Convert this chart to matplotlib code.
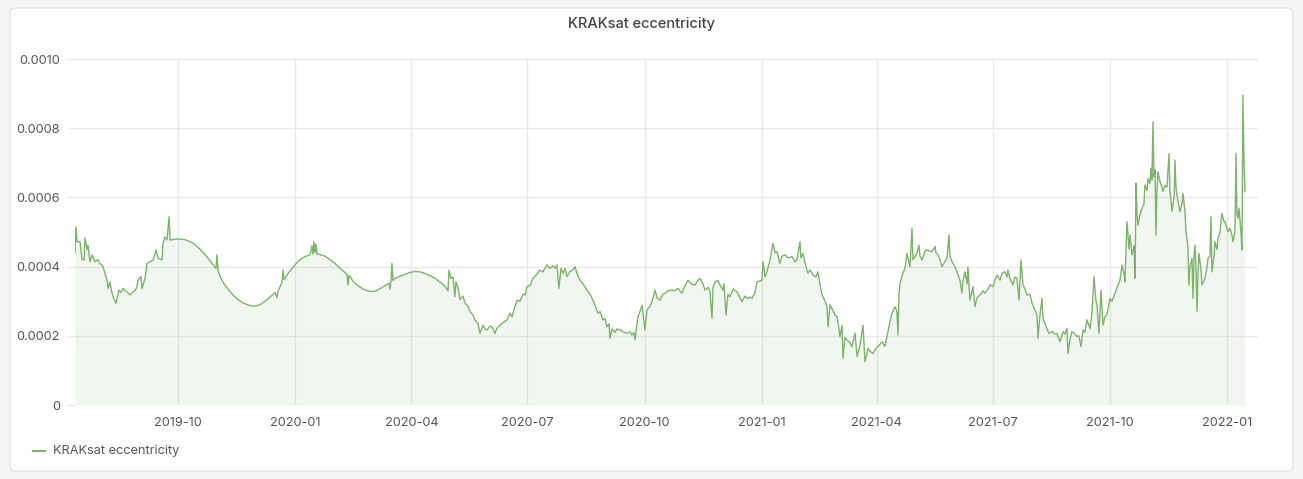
import matplotlib
matplotlib.use("Agg")
import matplotlib.pyplot as plt
import matplotlib.dates as mdates
from matplotlib.patches import FancyBboxPatch
from matplotlib.lines import Line2D
import numpy as np
import pandas as pd

plt.rcParams['font.family'] = ['Inter', 'DejaVu Sans']

title = "KRAKsat eccentricity"
series_name = "KRAKsat eccentricity"
start_date = "2019-07-12"

# days since start_date
days = [
    0.0, 0.8, 1.6, 3.9, 5.5, 7.1, 7.8, 9.4, 10.2, 11.8, 13.3, 15.7, 18.0, 19.6, 22.0, 23.5, 25.1, 25.9,
    27.5, 28.2, 29.8, 32.2, 34.5, 36.1, 37.7, 39.2, 40.8, 43.2, 45.5, 47.1, 48.6, 49.4, 51.8, 52.6,
    54.9, 56.5, 58.8, 61.2, 63.6, 65.1, 68.3, 69.0, 70.6, 72.2, 73.8, 74.6,
    80.0, 86.3, 92.6, 98.1, 103.6, 108.3, 110.6, 111.4, 112.2, 113.8, 116.1, 120.0, 124.0, 127.9,
    131.8, 135.7, 138.9, 142.0, 145.2, 149.1, 153.0, 156.9, 158.5, 159.3, 162.4, 163.2, 164.0, 167.1,
    172.6, 176.5, 180.5, 184.4, 185.9, 186.7, 187.5, 188.3, 189.1, 189.9, 192.2, 196.2, 200.1, 204.0,
    207.9, 211.8, 213.4, 214.2, 215.0, 218.1, 222.0, 226.0, 229.9, 233.0, 236.2, 239.3, 243.2, 246.4,
    247.1, 247.9, 248.7, 249.5, 251.1, 255.0, 258.9, 262.8, 266.8, 270.7, 274.6, 278.5, 282.5, 286.4,
    290.3, 292.7, 293.4, 295.0, 296.6, 298.1, 298.9, 300.5, 302.1, 304.4,
    306.0, 308.3, 309.9, 312.3, 313.8, 316.2, 317.8, 320.1, 321.7, 323.3, 325.6, 327.2, 329.5, 331.1,
    333.5, 336.6, 338.9, 341.3, 342.9, 345.2, 346.8, 349.1, 351.5, 353.1, 354.6, 357.0, 359.3, 361.7,
    364.8, 367.2, 370.3, 372.7, 375.0, 376.6, 378.2, 379.7, 381.3, 382.9, 384.5, 386.0, 388.4, 390.7,
    392.3, 393.9, 396.2, 398.6, 401.7, 404.1, 406.4, 408.0, 410.3, 411.9, 414.3, 415.8, 417.4, 419.0,
    419.8, 421.3, 423.7, 425.3, 427.6, 430.0, 433.1, 435.5, 437.0, 438.6, 439.4, 440.9, 441.7, 443.3,
    444.9, 447.2, 448.8, 451.1, 452.7, 455.1, 456.6,
    459.0, 461.3, 462.9, 465.3, 468.4, 470.8, 473.1, 474.7, 476.2, 478.6, 481.0, 483.3, 486.5, 488.8,
    490.4, 492.7, 494.3, 496.7, 498.2, 499.8, 500.6, 502.1, 504.5, 506.1, 508.4, 509.2, 510.8, 512.3,
    513.9, 516.3, 519.4, 521.8, 523.3, 525.7, 527.3, 529.6, 531.2, 533.5, 535.1, 537.5, 539.0, 539.8,
    541.4, 542.9, 545.3, 547.6, 549.2, 550.8, 553.1, 554.7, 557.1, 559.4, 562.6, 564.9, 566.5, 568.8,
    569.6, 571.2, 573.5, 575.1, 576.7, 579.0, 581.4, 582.9, 584.5, 586.1, 588.5, 590.0, 590.8, 592.4,
    593.9, 596.3, 597.9, 599.4, 600.2, 601.8, 602.6, 604.1, 605.7, 608.1, 609.6, 612.0,
    613.6, 615.9, 618.3, 619.8, 622.2, 623.8, 626.1, 627.7, 630.0, 631.6, 633.2, 635.5, 637.9, 639.4,
    641.0, 643.4, 644.9, 645.7, 646.5, 647.3, 649.6, 651.2, 652.8, 654.4, 655.1, 656.7, 657.5, 659.1,
    660.6, 662.2, 663.0, 664.6, 666.9, 668.5, 670.8, 672.4, 674.8, 675.5, 677.1, 678.7, 680.2, 682.6,
    684.2, 685.7, 686.5, 688.1, 690.4, 692.0, 694.4, 695.9, 696.7, 698.3, 699.9, 700.6, 702.2, 703.8,
    704.6, 706.1, 707.7, 710.1, 712.4, 714.0, 716.3, 717.9, 720.3, 721.8, 723.4, 725.8, 727.3, 729.7,
    731.3, 732.0, 733.6, 735.9, 737.5, 739.1, 740.7, 742.2, 743.8, 745.4, 746.9, 749.3, 750.9, 753.2,
    754.8, 755.6, 757.1, 758.7, 759.5, 761.1, 762.6, 764.2,
    766.6, 768.9, 770.5, 772.8, 775.2, 776.8, 778.3, 779.1, 780.7, 782.2, 784.6, 786.2, 787.7, 789.3,
    790.9, 792.4, 794.0, 796.4, 797.9, 799.5, 801.1, 801.9, 803.4, 805.0, 806.6, 808.1, 809.7, 812.1,
    813.6, 816.0, 818.3, 819.9, 821.5, 823.0, 823.8, 825.4, 827.0, 827.8, 829.3, 830.9, 831.7, 832.5,
    833.3, 834.0, 835.6, 837.2, 838.7, 839.5, 841.1, 841.9, 843.4, 844.2, 845.0, 845.8, 846.6, 847.4,
    848.1, 848.9, 849.7, 851.3, 852.9, 853.6, 855.2, 856.8, 858.4, 859.1, 860.7, 862.3, 863.1, 863.8,
    864.6, 867.0, 868.5, 869.3, 870.9, 871.7, 873.2, 874.0, 874.8, 876.4, 877.2, 878.0, 878.8, 879.5,
    880.3, 881.1, 881.9, 883.5, 884.2, 885.8, 886.6, 888.2, 889.0, 890.5, 891.3, 892.1, 893.7, 894.4,
    896.0, 896.8, 898.4, 899.9, 901.5, 902.3, 903.9, 904.6, 906.2, 907.8, 908.6, 910.1, 910.9, 911.7,
    912.5, 913.3, 914.8, 915.6, 916.4, 917.2, 918.0,
]

# eccentricity in units of 1e-4
ecc_e4 = [
    4.39, 5.15, 4.72, 4.72, 4.21, 4.19, 4.82, 4.50, 4.62, 4.14, 4.33, 4.14, 4.20, 4.09, 4.00, 3.80, 3.61, 3.37,
    3.56, 3.37, 3.13, 2.94, 3.32, 3.25, 3.37, 3.30, 3.27, 3.18, 3.27, 3.30, 3.42, 3.61, 3.71, 3.37,
    3.66, 4.09, 4.14, 4.19, 4.48, 4.24, 4.19, 4.67, 4.86, 4.77, 5.44, 4.77,
    4.80, 4.78, 4.68, 4.50, 4.28, 4.05, 3.95, 4.34, 3.90, 3.72, 3.55, 3.35, 3.18, 3.05,
    2.95, 2.89, 2.86, 2.86, 2.90, 3.00, 3.12, 3.25, 3.10, 3.28, 3.55, 3.90, 3.62, 3.80,
    4.05, 4.20, 4.29, 4.34, 4.60, 4.36, 4.72, 4.40, 4.65, 4.36, 4.35, 4.30, 4.20, 4.09,
    3.95, 3.83, 3.78, 3.47, 3.75, 3.58, 3.45, 3.35, 3.30, 3.28, 3.30, 3.36, 3.45, 3.52,
    3.35, 3.55, 4.09, 3.60, 3.66, 3.72, 3.78, 3.83, 3.86, 3.85, 3.80, 3.74, 3.66, 3.55,
    3.43, 3.30, 3.90, 3.66, 3.70, 3.13, 3.56, 3.40, 3.05, 3.15,
    2.95, 2.85, 2.70, 2.60, 2.46, 2.35, 2.07, 2.31, 2.20, 2.17, 2.28, 2.26, 2.07, 2.22,
    2.31, 2.40, 2.46, 2.65, 2.55, 2.85, 3.03, 3.00, 3.20, 3.18, 3.42, 3.45, 3.66, 3.75,
    3.90, 3.85, 4.05, 3.95, 4.02, 3.95, 4.05, 3.37, 3.95, 3.80, 3.95, 3.71, 3.86, 3.90,
    4.00, 3.80, 3.61, 3.50, 3.32, 3.20, 3.03, 2.90, 2.65, 2.70, 2.46, 2.50, 2.26, 2.35,
    1.93, 2.20, 2.10, 2.20, 2.17, 2.12, 2.07, 2.12, 2.02, 2.10, 1.88, 2.31, 2.55, 2.70,
    2.89, 2.17, 2.75, 2.85, 2.99, 3.32, 3.10,
    3.03, 3.20, 3.23, 3.30, 3.32, 3.30, 3.37, 3.30, 3.23, 3.45, 3.61, 3.50, 3.47, 3.60,
    3.66, 3.50, 3.32, 3.40, 3.27, 2.50, 3.40, 3.56, 3.60, 3.47, 3.32, 3.50, 2.60, 3.20,
    3.13, 3.35, 3.27, 3.10, 2.99, 3.15, 3.08, 3.12, 3.08, 3.25, 3.56, 3.58, 3.61, 4.14,
    3.70, 3.85, 4.19, 4.67, 4.40, 4.43, 4.09, 4.30, 4.34, 4.25, 4.29, 4.14, 4.20, 4.72,
    4.25, 4.38, 4.00, 3.81, 3.90, 3.76, 3.70, 3.85, 3.50, 3.18, 3.00, 2.84, 2.26, 2.90,
    2.79, 2.60, 2.55, 2.20, 1.97, 2.30, 1.35, 1.95, 1.88, 1.80, 1.68, 2.08,
    1.40, 1.73, 2.31, 1.25, 1.64, 1.55, 1.49, 1.60, 1.69, 1.75, 1.83, 1.69, 2.12, 2.40,
    2.65, 2.84, 2.70, 2.02, 3.20, 3.52, 3.81, 3.95, 4.38, 4.10, 3.99, 5.11, 4.20, 4.29,
    4.40, 4.62, 4.30, 4.19, 4.45, 4.48, 4.45, 4.43, 4.58, 4.40, 4.34, 4.20, 3.99, 4.15,
    4.24, 4.91, 4.30, 4.14, 4.00, 3.85, 3.60, 3.23, 3.60, 3.85, 3.50, 3.99, 3.03, 3.30,
    3.42, 2.84, 3.10, 3.18, 3.30, 3.23, 3.35, 3.47, 3.42, 3.60, 3.76, 3.61, 3.80, 3.85,
    3.70, 3.90, 3.65, 3.47, 3.70, 3.66, 3.03, 4.19, 3.47, 3.35, 3.18, 3.20, 2.94, 2.75,
    2.60, 1.93, 2.60, 3.08, 2.50, 2.36, 2.20, 2.07,
    2.12, 2.05, 2.07, 1.83, 2.12, 2.05, 2.21, 1.49, 1.90, 2.12, 2.05, 1.98, 2.00, 1.69,
    2.17, 2.10, 2.46, 2.21, 2.65, 3.71, 3.00, 2.89, 2.07, 3.32, 2.31, 2.55, 2.60, 3.08,
    3.00, 3.23, 3.47, 3.60, 4.05, 3.80, 3.56, 5.30, 4.50, 4.91, 4.34, 4.60, 3.66, 6.41,
    5.50, 5.20, 5.50, 5.69, 5.80, 6.36, 6.20, 6.55, 6.40, 6.84, 6.50, 8.19, 6.60, 6.80,
    4.91, 6.20, 6.74, 6.45, 6.30, 6.17, 6.35, 6.30, 7.27, 6.20, 5.59, 6.00, 7.08, 6.30,
    6.07, 5.59, 5.80, 6.12, 5.60, 5.01, 4.60, 3.47, 4.00, 4.24, 3.08, 4.30, 4.62, 4.00,
    2.70, 3.80, 4.38, 3.90, 3.47, 3.60, 3.66, 4.00, 4.24, 4.30, 5.44, 3.85, 4.30, 4.72,
    4.50, 4.82, 5.00, 5.54, 5.30, 5.30, 5.10, 5.01, 5.11, 4.90, 4.72, 5.00, 7.27, 5.50,
    5.40, 5.69, 5.00, 4.48, 8.96, 7.00, 6.17,
]

y_ticks = [0, 0.0002, 0.0004, 0.0006, 0.0008, 0.0010]
y_tick_labels = ["0", "0.0002", "0.0004", "0.0006", "0.0008", "0.0010"]
x_tick_dates = ["2019-10-01", "2020-01-01", "2020-04-01", "2020-07-01", "2020-10-01",
                "2021-01-01", "2021-04-01", "2021-07-01", "2021-10-01", "2022-01-01"]
x_end_day = 928.2

t0 = pd.Timestamp(start_date)
t = t0 + pd.to_timedelta(days, unit="D")
ecc = np.array(ecc_e4) * 1e-4

W, H = 1303, 479
fig = plt.figure(figsize=(W / 100, H / 100), dpi=100)
fig.patch.set_facecolor("#f4f5f5")

card = FancyBboxPatch((10 / W, 8 / H), (1293 - 10) / W, (471 - 8) / H,
                      boxstyle="round,pad=0,rounding_size=0.004", mutation_aspect=W / H,
                      transform=fig.transFigure, facecolor="white", edgecolor="#dcdee1",
                      linewidth=0.8, zorder=-10)
fig.patches.append(card)

ax = fig.add_axes([75 / W, 1 - 405 / H, (1258 - 75) / W, (405 - 59) / H], zorder=5)
ax.set_facecolor("none")

line_color = "#7eb26d"
ax.fill_between(t, 0, ecc, color=line_color, alpha=0.1, linewidth=0, zorder=2)
ax.plot(t, ecc, color=line_color, linewidth=1.0, zorder=3)

ax.set_ylim(0, 0.001)
ax.set_xlim(t0, t0 + pd.Timedelta(days=x_end_day))

ax.set_yticks(y_ticks)
ax.set_yticklabels(y_tick_labels)
ax.set_xticks([pd.Timestamp(d) for d in x_tick_dates])
ax.xaxis.set_major_formatter(mdates.DateFormatter("%Y-%m"))

grid_color = "#e9e9e9"
ax.grid(True, color=grid_color, linewidth=1.0, zorder=1)
ax.set_axisbelow(True)
for s in ax.spines.values():
    s.set_visible(False)

tick_text = "#52575e"
ax.tick_params(axis="y", length=5.8, width=1.0, color=grid_color, pad=5, labelsize=9.2, labelcolor=tick_text)
ax.tick_params(axis="x", length=0, pad=9, labelsize=9.2, labelcolor=tick_text)

fig.text(641 / W, 1 - 24 / H, title, ha="center", va="center", fontsize=10.5,
         fontweight="medium", color="#3f444b")

fig.lines.append(Line2D([33 / W, 45 / W], [1 - 451 / H, 1 - 451 / H], transform=fig.transFigure,
                        color=line_color, linewidth=1.5))
fig.text(53 / W, 1 - 451 / H, series_name, ha="left", va="center", fontsize=9.2, color=tick_text)

fig.savefig("out.png", dpi=100, facecolor=fig.get_facecolor())
